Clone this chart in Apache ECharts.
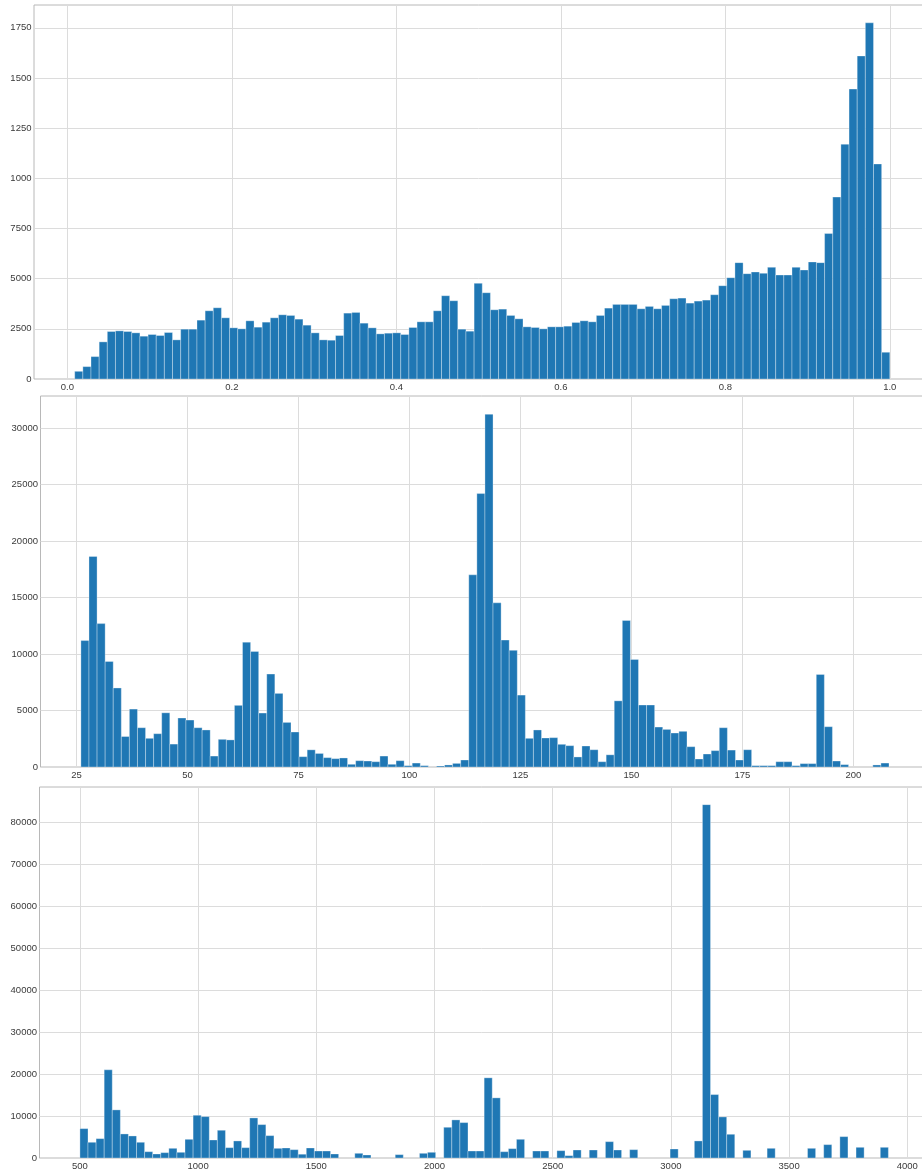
<!DOCTYPE html>
<html><head><meta charset="utf-8">
<script src="https://cdn.jsdelivr.net/npm/echarts@6/dist/echarts.min.js"></script>
<style>html,body{margin:0;padding:0;background:#fff}#c{width:922px;height:1173px}</style>
</head><body><div id="c"></div>
<script>
// ---------- panel 1 ----------
const topBinStart = 0.009;
const topBinWidth = 0.00991;
const topCounts = [383, 617, 1117, 1850, 2367, 2400, 2367, 2300, 2133, 2217,
  2167, 2317, 1950, 2483, 2483, 2933, 3400, 3550, 3050, 2550,
  2500, 2900, 2583, 2833, 3050, 3200, 3167, 2983, 2683, 2300,
  1950, 1933, 2167, 3283, 3317, 2783, 2550, 2250, 2283, 2300,
  2217, 2567, 2850, 2850, 3400, 4150, 3900, 2483, 2383, 4767,
  4300, 3450, 3483, 3167, 3000, 2600, 2567, 2500, 2600, 2600,
  2633, 2817, 2900, 2850, 3167, 3533, 3717, 3717, 3717, 3500,
  3617, 3500, 3667, 4000, 4033, 3783, 3883, 3933, 4200, 4650,
  5050, 5800, 5250, 5333, 5267, 5567, 5183, 5183, 5567, 5433,
  5833, 5800, 7250, 9067, 11700, 14450, 16100, 17750, 10717, 1333];
const topXTicks = [0, 0.2, 0.4, 0.6, 0.8, 1.0];
const topXLabels = ['0.0', '0.2', '0.4', '0.6', '0.8', '1.0'];
const topYTicks = [0, 2500, 5000, 7500, 10000, 12500, 15000, 17500];
const topYLabels = ['0', '2500', '5000', '7500', '1000', '1250', '1500', '1750'];

// ---------- panel 2 ----------
const midBinStart = 26;
const midBinWidth = 1.82;
const midCounts = [11200, 18650, 12700, 9350, 7000, 2700, 5130, 3480, 2540, 2950,
  4800, 2030, 4340, 4160, 3480, 3280, 970, 2450, 2400, 5460,
  11060, 10240, 4780, 8230, 6520, 3950, 3100, 915, 1520, 1200,
  830, 740, 800, 240, 560, 530, 470, 970, 240, 560,
  120, 350, 120, 0, 90, 180, 320, 620, 17020, 24220,
  31240, 14540, 11240, 10330, 6370, 2540, 3280, 2570, 2600, 2010,
  1890, 890, 1860, 1530, 470, 1080, 5860, 12980, 9530, 5490,
  5490, 3540, 3330, 3010, 3160, 1800, 710, 1150, 1450, 3480,
  1500, 620, 1530, 120, 120, 120, 470, 470, 120, 300,
  300, 8200, 3570, 530, 210, 0, 0, 0, 180, 350];
const midXTicks = [25, 50, 75, 100, 125, 150, 175, 200];
const midXLabels = ['25', '50', '75', '100', '125', '150', '175', '200'];
const midYTicks = [0, 5000, 10000, 15000, 20000, 25000, 30000];
const midYLabels = ['0', '5000', '10000', '15000', '20000', '25000', '30000'];

// ---------- panel 3 ----------
const botBinStart = 500;
const botBinWidth = 34.2;
const botCounts = [7010, 3750, 4620, 21040, 11480, 5740, 5260, 3750, 1510, 960,
  1280, 2310, 1360, 4460, 10200, 9880, 4300, 6620, 2470, 4070,
  2470, 9560, 7970, 5340, 2310, 2390, 1990, 900, 2390, 1670,
  1670, 960, 0, 0, 1120, 720, 0, 0, 0, 800,
  0, 0, 1120, 1360, 0, 7330, 9090, 8450, 1670, 1670,
  19130, 14350, 1510, 2230, 4460, 0, 1670, 1670, 0, 1750,
  560, 1910, 0, 1910, 0, 3900, 1910, 0, 1990, 0,
  0, 0, 0, 2150, 0, 0, 4070, 84320, 15140, 9800,
  5660, 0, 1830, 0, 0, 2310, 0, 0, 0, 0,
  2310, 0, 3190, 0, 5100, 0, 2550, 0, 0, 2550];
const botXTicks = [500, 1000, 1500, 2000, 2500, 3000, 3500, 4000];
const botXLabels = ['500', '1000', '1500', '2000', '2500', '3000', '3500', '4000'];
const botYTicks = [0, 10000, 20000, 30000, 40000, 50000, 60000, 70000, 80000];
const botYLabels = ['0', '10000', '20000', '30000', '40000', '50000', '60000', '70000', '80000'];

// ---------- layout / style ----------
const panels = [
  {counts: topCounts, start: topBinStart, width: topBinWidth, xt: topXTicks, xl: topXLabels, yt: topYTicks, yl: topYLabels,
   xmin: -0.0405, xmax: 1.0496, ymax: 18640, grid: {left: 34, top: 5, width: 896.6, height: 374}},
  {counts: midCounts, start: midBinStart, width: midBinWidth, xt: midXTicks, xl: midXLabels, yt: midYTicks, yl: midYLabels,
   xmin: 16.9, xmax: 217.1, ymax: 32860, grid: {left: 40.5, top: 396, width: 888.9, height: 371}},
  {counts: botCounts, start: botBinStart, width: botBinWidth, xt: botXTicks, xl: botXLabels, yt: botYTicks, yl: botYLabels,
   xmin: 329, xmax: 4091, ymax: 88530, grid: {left: 39.5, top: 787, width: 889.3, height: 371}}
];

const font = {fontFamily: 'Liberation Sans, Arial, sans-serif', fontSize: 9.5, color: '#3a3a3a'};
const gridLine = {show: true, lineStyle: {color: '#dcdcdc', width: 1}};

function labeler(ticks, labels) {
  return function (v) {
    for (let i = 0; i < ticks.length; i++) {
      if (Math.abs(ticks[i] - v) < 1e-9 * Math.max(1, Math.abs(v))) return labels[i];
    }
    return '';
  };
}

const grids = [], xAxes = [], yAxes = [], series = [];
panels.forEach((p, k) => {
  grids.push(Object.assign({show: true, borderColor: '#b8b8b8', borderWidth: 1, backgroundColor: 'transparent',
    containLabel: false, outerBoundsMode: 'none'}, p.grid));
  xAxes.push({
    type: 'value', gridIndex: k, min: p.xmin, max: p.xmax,
    axisLine: {show: false},
    axisTick: {show: false, customValues: p.xt},
    splitLine: gridLine,
    axisLabel: Object.assign({customValues: p.xt, margin: 3, formatter: labeler(p.xt, p.xl)}, font)
  });
  yAxes.push({
    type: 'value', gridIndex: k, min: 0, max: p.ymax,
    axisLine: {show: false},
    axisTick: {show: false, customValues: p.yt},
    splitLine: gridLine,
    axisLabel: Object.assign({customValues: p.yt, margin: 2.5, formatter: labeler(p.yt, p.yl)}, font)
  });
  series.push({
    type: 'custom', xAxisIndex: k, yAxisIndex: k, silent: true, clip: true,
    data: p.counts.map((c, i) => [p.start + i * p.width, p.start + (i + 1) * p.width, c]),
    encode: {x: [0, 1], y: 2},
    renderItem: function (params, api) {
      const c = api.value(2);
      if (!c) return null;
      const a = api.coord([api.value(0), c]);
      const b = api.coord([api.value(1), 0]);
      return {
        type: 'rect',
        shape: {x: a[0], y: a[1], width: b[0] - a[0], height: b[1] - a[1]},
        style: {fill: '#1f77b4', stroke: 'rgba(255,255,255,0.45)', lineWidth: 0.7}
      };
    }
  });
});

const chart = echarts.init(document.getElementById('c'), null, {renderer: 'canvas'});
chart.setOption({
  animation: false,
  backgroundColor: '#ffffff',
  grid: grids, xAxis: xAxes, yAxis: yAxes, series: series
});
</script>
</body></html>
